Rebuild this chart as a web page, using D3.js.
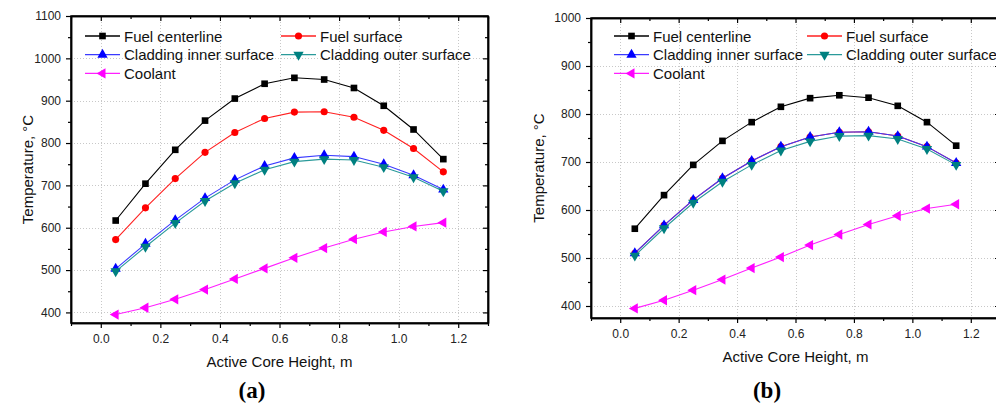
<!DOCTYPE html>
<html>
<head>
<meta charset="utf-8">
<script src="https://cdn.jsdelivr.net/npm/d3@7"></script>
<style>
	body { margin: 0; background: #fff; }
	svg { display: block; font-family: "Liberation Sans", Arial, sans-serif; }
</style>
</head>
<body>
<div id="chart"></div>
<script>
// axial positions (m)
var heights = [0.05, 0.15, 0.25, 0.35, 0.45, 0.55, 0.65, 0.75, 0.85, 0.95, 1.05, 1.15];

var seriesNames = ['Fuel centerline', 'Fuel surface', 'Cladding inner surface', 'Cladding outer surface', 'Coolant'];

// panel (a)
var aCenterline = [617, 704, 784, 853, 905, 940, 954, 950, 930, 888, 832, 762];
var aSurface    = [572, 647, 716, 778, 825, 858, 873, 874, 861, 830, 787, 732];
var aCladIn     = [503, 562, 618, 670, 713, 746, 765, 771, 768, 750, 724, 690];
var aCladOut    = [497, 555, 611, 663, 705, 737, 756, 762, 760, 743, 719, 686];
var aCoolant    = [395, 411, 431, 454, 479, 504, 529, 552, 573, 590, 603, 612];

// panel (b)
var bCenterline = [561, 631, 694, 744, 783, 815, 833, 839, 834, 817, 783, 734];
var bSurface    = [510, 568, 621, 666, 702, 732, 752, 762, 763, 754, 732, 698];
var bCladIn     = [510, 568, 621, 666, 702, 732, 752, 762, 763, 754, 732, 698];
var bCladOut    = [505, 562, 615, 659, 694, 724, 743, 754, 755, 748, 727, 694];
var bCoolant    = [395, 412, 433, 455, 479, 502, 527, 549, 570, 588, 603, 612];

var xTicks = [0.0, 0.2, 0.4, 0.6, 0.8, 1.0, 1.2];

var styles = [
	{color: '#000000', line: '#000000', sym: d3.symbolSquare, size: 44, rot: 0},
	{color: '#ff0000', line: '#ff2020', sym: d3.symbolCircle, size: 40, rot: 0},
	{color: '#0000ff', line: '#3a3aff', sym: d3.symbolTriangle, size: 46, rot: 0},
	{color: '#008080', line: '#2a9a9a', sym: d3.symbolTriangle, size: 46, rot: 180},
	{color: '#ff00ff', line: '#ff20ff', sym: d3.symbolTriangle, size: 46, rot: -90}
];

var svg = d3.select('#chart').append('svg')
	.attr('width', 996)
	.attr('height', 405);

function drawPanel(p) {
	var x = d3.scaleLinear().domain([-0.1, 1.3]).range([p.left, p.right]);
	var y = d3.scaleLinear().domain([375, p.yMax]).range([p.bottom, p.top]);
	var g = svg.append('g');

	var yMajor = d3.range(400, p.yMax + 1, 100);
	var yMinor = d3.range(450, p.yMax, 100);
	var xMinor = [-0.1, 0.1, 0.3, 0.5, 0.7, 0.9, 1.1, 1.3];

	// dotted grid
	g.selectAll('.gx').data(xTicks).enter().append('line')
		.attr('x1', function(d) { return Math.round(x(d)) + 0.5; })
		.attr('x2', function(d) { return Math.round(x(d)) + 0.5; })
		.attr('y1', p.top).attr('y2', p.bottom)
		.attr('stroke', '#c8c8c8').attr('stroke-dasharray', '1,2');
	g.selectAll('.gy').data(yMajor.filter(function(d) { return d < p.yMax; })).enter().append('line')
		.attr('y1', function(d) { return Math.round(y(d)) + 0.5; })
		.attr('y2', function(d) { return Math.round(y(d)) + 0.5; })
		.attr('x1', p.left).attr('x2', p.right)
		.attr('stroke', '#c8c8c8').attr('stroke-dasharray', '1,2');

	// axes: bottom/left ticks out, top/right ticks in
	g.append('g').attr('transform', 'translate(0,' + p.bottom + ')')
		.call(d3.axisBottom(x).tickValues(xTicks).tickSize(5).tickSizeOuter(0).tickPadding(6).tickFormat(d3.format('.1f')));
	g.append('g').attr('transform', 'translate(0,' + p.bottom + ')')
		.call(d3.axisBottom(x).tickValues(xMinor).tickSize(3).tickSizeOuter(0).tickFormat(''));
	g.append('g').attr('transform', 'translate(0,' + p.top + ')')
		.call(d3.axisBottom(x).tickValues(xTicks).tickSize(5).tickSizeOuter(0).tickFormat(''));
	g.append('g').attr('transform', 'translate(0,' + p.top + ')')
		.call(d3.axisBottom(x).tickValues(xMinor).tickSize(3).tickSizeOuter(0).tickFormat(''));
	g.append('g').attr('transform', 'translate(' + p.left + ',0)')
		.call(d3.axisLeft(y).tickValues(yMajor).tickSize(5).tickSizeOuter(0).tickPadding(5).tickFormat(d3.format('d')));
	g.append('g').attr('transform', 'translate(' + p.left + ',0)')
		.call(d3.axisLeft(y).tickValues(yMinor).tickSize(3).tickSizeOuter(0).tickFormat(''));
	g.append('g').attr('transform', 'translate(' + p.right + ',0)')
		.call(d3.axisLeft(y).tickValues(yMajor).tickSize(5).tickSizeOuter(0).tickFormat(''));
	g.append('g').attr('transform', 'translate(' + p.right + ',0)')
		.call(d3.axisLeft(y).tickValues(yMinor).tickSize(3).tickSizeOuter(0).tickFormat(''));

	g.selectAll('.domain').attr('stroke', '#000').attr('stroke-width', 1.5);
	g.selectAll('.tick line').attr('stroke', '#000').attr('stroke-width', 1.2);
	g.selectAll('g').attr('font-family', null);
	g.selectAll('.tick text').attr('font-size', 12).attr('fill', '#222')
		.attr('font-family', '"Liberation Sans", Arial, sans-serif');

	// frame
	g.append('rect')
		.attr('x', p.left).attr('y', p.top)
		.attr('width', p.right - p.left).attr('height', p.bottom - p.top)
		.attr('fill', 'none').attr('stroke', '#000').attr('stroke-width', 1.5);

	// series
	var line = d3.line()
		.x(function(d) { return x(d[0]); })
		.y(function(d) { return y(d[1]); });

	p.series.forEach(function(vals, i) {
		var st = styles[i];
		var pts = heights.map(function(h, j) { return [h, vals[j]]; });
		g.append('path').datum(pts)
			.attr('d', line)
			.attr('fill', 'none')
			.attr('stroke', st.line)
			.attr('stroke-width', 1.1);
		g.selectAll('.m' + i).data(pts).enter().append('path')
			.attr('d', d3.symbol().type(st.sym).size(st.size))
			.attr('transform', function(d) { return 'translate(' + x(d[0]) + ',' + y(d[1]) + ') rotate(' + st.rot + ')'; })
			.attr('fill', st.color);
	});

	// legend, two columns
	var cols = [0, 1, 0, 1, 0];
	var rows = [0, 0, 1, 1, 2];
	seriesNames.forEach(function(name, i) {
		var st = styles[i];
		var lx = p.left + (cols[i] ? p.legCol2 : p.legCol1);
		var ly = p.top + p.legTop + rows[i] * 18.7;
		g.append('line')
			.attr('x1', lx).attr('x2', lx + 35)
			.attr('y1', ly).attr('y2', ly)
			.attr('stroke', st.line).attr('stroke-width', 1.3);
		g.append('path')
			.attr('d', d3.symbol().type(st.sym).size(st.size))
			.attr('transform', 'translate(' + (lx + 17.5) + ',' + ly + ') rotate(' + st.rot + ')')
			.attr('fill', st.color);
		g.append('text')
			.attr('x', lx + 39).attr('y', ly + 5.5)
			.attr('font-size', 15).attr('fill', '#111')
			.text(name);
	});

	// axis titles
	g.append('text')
		.attr('x', (p.left + p.right) / 2).attr('y', p.bottom + 44)
		.attr('text-anchor', 'middle').attr('font-size', 15).attr('fill', '#111')
		.text('Active Core Height, m');
	g.append('text')
		.attr('transform', 'translate(' + p.yTitleX + ',' + (p.top + p.bottom) / 2 + ') rotate(-90)')
		.attr('text-anchor', 'middle').attr('font-size', 15).attr('fill', '#111')
		.text('Temperature, °C');

	// panel label
	svg.append('text')
		.attr('x', p.labelX).attr('y', 398)
		.attr('text-anchor', 'middle')
		.attr('font-family', '"Liberation Serif", "Times New Roman", serif')
		.attr('font-weight', 'bold').attr('font-size', 23).attr('fill', '#000')
		.text(p.label);
}

drawPanel({
	left: 71, right: 488, top: 16, bottom: 323, yMax: 1100,
	series: [aCenterline, aSurface, aCladIn, aCladOut, aCoolant],
	legCol1: 14, legCol2: 210, legTop: 20, yTitleX: 33, labelX: 252, label: '(a)'
});

drawPanel({
	left: 591, right: 1000, top: 18, bottom: 318, yMax: 1000,
	series: [bCenterline, bSurface, bCladIn, bCladOut, bCoolant],
	legCol1: 23, legCol2: 216, legTop: 18, yTitleX: 544, labelX: 767, label: '(b)'
});
</script>
</body>
</html>
